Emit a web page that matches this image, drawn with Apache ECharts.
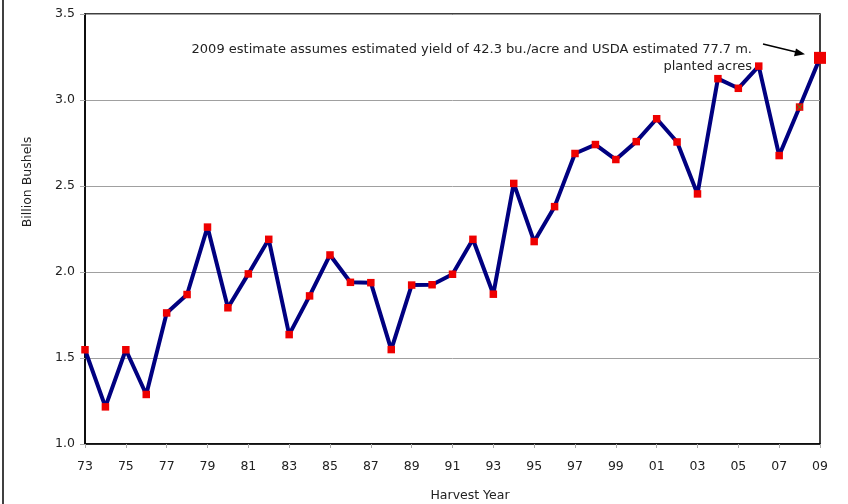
<!DOCTYPE html>
<html><head><meta charset="utf-8">
<script src="https://cdn.jsdelivr.net/npm/echarts@6/dist/echarts.min.js"></script>
<style>html,body{margin:0;padding:0;background:#fff}#c{width:848px;height:504px}</style>
</head><body><div id="c"></div>
<script>
const years = ['73','74','75','76','77','78','79','80','81','82','83','84','85','86','87','88','89','90','91','92','93','94','95','96','97','98','99','00','01','02','03','04','05','06','07','08','09'];
const production = [1.548,1.216,1.548,1.288,1.762,1.869,2.261,1.792,1.989,2.190,1.636,1.861,2.099,1.940,1.938,1.549,1.924,1.926,1.987,2.190,1.871,2.515,2.177,2.380,2.689,2.741,2.654,2.758,2.891,2.756,2.454,3.124,3.068,3.197,2.677,2.959,3.245];
const yTicks = [1.0,1.5,2.0,2.5,3.0,3.5];
const note1 = '2009 estimate assumes estimated yield of 42.3 bu./acre and USDA estimated 77.7 m.';
const note2 = 'planted acres';
const yName = 'Billion Bushels';
const xName = 'Harvest Year';

const font = 'DejaVu Sans, Verdana, sans-serif';
const last = production.length - 1;
const lineData = production.map((v, i) => i === last ? {value: v, symbolSize: 12} : v);
const markData = production.map((v, i) => i === last - 1 ? v : null);

const chart = echarts.init(document.getElementById('c'), null, {renderer: 'canvas'});
chart.setOption({
  animation: false,
  backgroundColor: '#fff',
  grid: {left: 85, right: 28, top: 14, bottom: 60, show: true, borderColor: '#000', borderWidth: 1.5, backgroundColor: 'transparent'},
  xAxis: {
    type: 'category', data: years, boundaryGap: false,
    axisLine: {lineStyle: {color: '#000', width: 1.5}},
    axisTick: {show: true, interval: 1, length: 4, lineStyle: {color: '#aaa'}},
    axisLabel: {interval: 1, color: '#222', fontFamily: font, fontSize: 12.5, margin: 16},
    splitLine: {show: false}
  },
  yAxis: {
    type: 'value', min: yTicks[0], max: yTicks[yTicks.length - 1], interval: 0.5,
    axisLine: {show: true, lineStyle: {color: '#000', width: 1.5}},
    axisTick: {show: true, length: 5, lineStyle: {color: '#aaa'}},
    axisLabel: {color: '#222', fontFamily: font, fontSize: 12.5, margin: 10, formatter: v => v.toFixed(1)},
    splitLine: {show: true, lineStyle: {color: '#a0a0a0', width: 1}}
  },
  series: [
    {
      type: 'line', data: lineData, symbol: 'rect', symbolSize: 7.5, showSymbol: true,
      lineStyle: {color: '#000080', width: 4},
      itemStyle: {color: '#ee0000'}, z: 3
    },
    {
      type: 'scatter', data: markData, symbol: 'path://M0,1L1,0L10,9L9,10ZM9,0L10,1L1,10L0,9Z', symbolSize: 6,
      itemStyle: {color: '#2a9a2a'}, z: 4
    }
  ],
  graphic: [
    {type: 'line', shape: {x1: 3, y1: 0, x2: 3, y2: 504}, style: {stroke: '#000', lineWidth: 1.5}},
    {type: 'text', x: 752, y: 50, style: {text: note1, fill: '#222', font: '13px ' + font, textAlign: 'right', textVerticalAlign: 'middle'}},
    {type: 'text', x: 752, y: 67, style: {text: note2, fill: '#222', font: '13px ' + font, textAlign: 'right', textVerticalAlign: 'middle'}},
    {type: 'line', shape: {x1: 763, y1: 44, x2: 798, y2: 52.5}, style: {stroke: '#000', lineWidth: 1.5}},
    {type: 'polygon', shape: {points: [[805, 54.2], [796, 48.5], [794, 56.3]]}, style: {fill: '#000'}},
    {type: 'text', x: 28, y: 182, rotation: Math.PI / 2, style: {text: yName, fill: '#222', font: '12.5px ' + font, textAlign: 'center', textVerticalAlign: 'middle'}},
    {type: 'text', x: 470, y: 496, style: {text: xName, fill: '#222', font: '12.5px ' + font, textAlign: 'center', textVerticalAlign: 'middle'}}
  ]
});
</script></body></html>
